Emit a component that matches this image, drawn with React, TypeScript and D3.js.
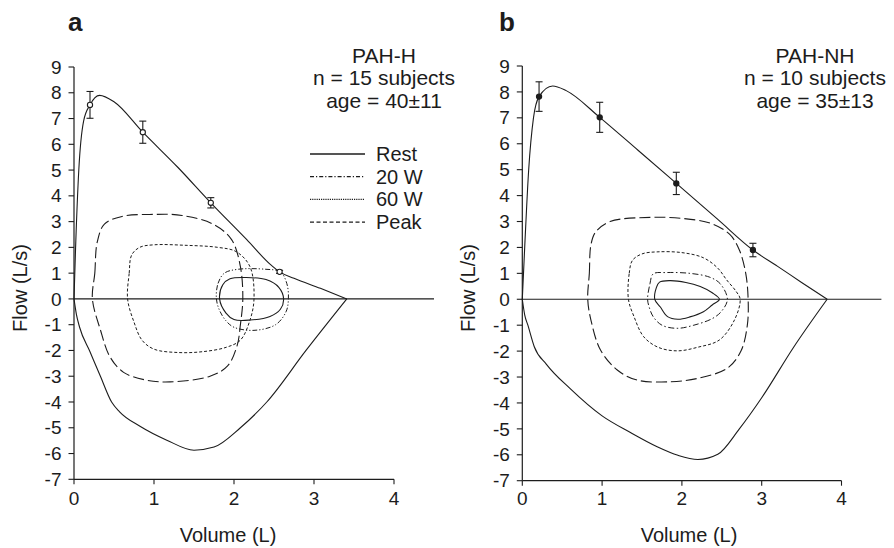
import React from "react";
import * as d3 from "d3";

type P = [number, number];

// ---------- DATA ----------
const volumeTicks = [0, 1, 2, 3, 4];
const flowTicks = [9, 8, 7, 6, 5, 4, 3, 2, 1, 0, -1, -2, -3, -4, -5, -6, -7];

const panelLetters = ["a", "b"];
const groupNames = ["PAH-H", "PAH-NH"];
const groupN = ["n = 15 subjects", "n = 10 subjects"];
const groupAge = ["age = 40±11", "age = 35±13"];

const legendLabels = ["Rest", "20 W", "60 W", "Peak"];

// PAH-H (panel a)
const pahH_restExp: P[] = [[0, 0], [0.02, 2], [0.06, 5], [0.12, 6.9], [0.2, 7.53], [0.32, 7.9], [0.5, 7.65], [0.86, 6.47], [1.3, 5.1], [1.71, 3.73], [2.16, 2.3], [2.45, 1.35], [2.57, 1.05], [2.75, 0.8], [3.08, 0.41], [3.41, 0]];
const pahH_restInsp: P[] = [[0, 0], [0.03, -0.6], [0.07, -1.1], [0.2, -2.05], [0.33, -3.0], [0.47, -4.0], [0.57, -4.38], [0.83, -4.95], [1.16, -5.48], [1.5, -5.87], [1.75, -5.75], [2.08, -5.0], [2.41, -4.0], [2.9, -2.0], [3.41, 0]];
const pahH_restTidal: P[] = [[1.82, 0], [1.86, 0.55], [1.95, 0.78], [2.15, 0.83], [2.4, 0.75], [2.56, 0.45], [2.62, 0], [2.58, -0.4], [2.45, -0.68], [2.2, -0.82], [2.0, -0.8], [1.9, -0.55]];
const pahH_20W: P[] = [[1.78, 0], [1.8, 0.6], [1.88, 1.0], [2.05, 1.15], [2.4, 1.15], [2.58, 1.05], [2.66, 0.6], [2.68, 0], [2.65, -0.5], [2.52, -1.0], [2.25, -1.22], [2.0, -1.1], [1.9, -0.85], [1.82, -0.45]];
const pahH_60W: P[] = [[0.67, 0], [0.69, 1], [0.72, 1.7], [0.82, 2.0], [1.0, 2.1], [1.4, 2.08], [1.8, 2.0], [2.03, 1.83], [2.2, 1.25], [2.25, 0], [2.2, -0.82], [2.08, -1.6], [1.9, -1.88], [1.6, -2.05], [1.3, -2.08], [1.0, -1.95], [0.85, -1.6], [0.75, -0.9]];
const pahH_peak: P[] = [[0.23, 0], [0.26, 1], [0.29, 2.2], [0.38, 2.9], [0.6, 3.2], [1.0, 3.28], [1.35, 3.24], [1.74, 2.9], [1.97, 2.3], [2.08, 1.25], [2.11, 0], [2.08, -1.0], [2.04, -1.8], [1.92, -2.6], [1.7, -3.0], [1.2, -3.22], [0.9, -3.15], [0.62, -2.85], [0.45, -2.25], [0.33, -1.2]];
const pahH_points = [0.2, 0.86, 1.71, 2.57];
const pahH_means = [7.53, 6.47, 3.73, 1.05];
const pahH_errors = [0.52, 0.43, 0.2, 0.06];

// PAH-NH (panel b)
const pahNH_restExp: P[] = [[0, 0], [0.03, 2], [0.08, 5], [0.14, 7.0], [0.21, 7.82], [0.38, 8.23], [0.55, 8.05], [0.97, 7.02], [1.45, 5.75], [1.93, 4.47], [2.45, 3.08], [2.89, 1.9], [3.2, 1.27], [3.5, 0.65], [3.82, 0]];
const pahNH_restInsp: P[] = [[0, 0], [0.03, -0.6], [0.07, -1.0], [0.15, -1.83], [0.3, -2.5], [0.6, -3.45], [1.0, -4.5], [1.36, -5.15], [1.69, -5.69], [1.95, -6.02], [2.2, -6.18], [2.45, -5.98], [2.72, -5.0], [3.0, -3.8], [3.4, -1.85], [3.82, 0]];
const pahNH_restTidal: P[] = [[1.66, 0], [1.68, 0.45], [1.72, 0.66], [1.85, 0.72], [2.05, 0.65], [2.23, 0.49], [2.38, 0.25], [2.47, 0], [2.38, -0.22], [2.27, -0.48], [2.1, -0.68], [1.95, -0.77], [1.82, -0.67], [1.73, -0.3]];
const pahNH_20W: P[] = [[1.57, 0], [1.6, 0.6], [1.64, 0.98], [1.8, 1.03], [2.1, 1.0], [2.35, 0.85], [2.48, 0.6], [2.57, 0], [2.5, -0.45], [2.39, -0.73], [2.15, -1.0], [1.94, -1.12], [1.75, -1.0], [1.64, -0.67], [1.59, -0.3]];
const pahNH_60W: P[] = [[1.33, 0], [1.34, 1], [1.38, 1.5], [1.5, 1.75], [1.7, 1.83], [2.0, 1.8], [2.27, 1.6], [2.45, 1.2], [2.56, 0.75], [2.68, 0.3], [2.73, 0], [2.66, -0.79], [2.47, -1.57], [2.2, -1.85], [1.94, -1.99], [1.7, -1.85], [1.52, -1.44], [1.4, -0.67]];
const pahNH_peak: P[] = [[0.82, 0], [0.84, 1], [0.86, 2.1], [0.92, 2.6], [1.1, 3.0], [1.61, 3.16], [2.0, 3.12], [2.36, 2.93], [2.6, 2.5], [2.72, 1.9], [2.8, 1.0], [2.83, 0], [2.82, -1], [2.74, -2], [2.57, -2.66], [2.2, -3.05], [1.86, -3.18], [1.44, -3.12], [1.19, -2.73], [0.98, -1.96], [0.86, -0.8]];
const pahNH_points = [0.21, 0.97, 1.93, 2.89];
const pahNH_means = [7.82, 7.02, 4.47, 1.9];
const pahNH_errors = [0.57, 0.58, 0.43, 0.26];

// ---------- STYLE ----------
const FONT = "'Liberation Sans', Arial, Helvetica, sans-serif";
const INK = "#1c1c1c";

interface PanelDef {
  letter: string;
  name: string;
  n: string;
  age: string;
  restExp: P[];
  restInsp: P[];
  tidal: P[];
  w20: P[];
  w60: P[];
  peak: P[];
  pv: number[];
  pm: number[];
  pe: number[];
  filled: boolean;
  x0: number; x1: number; yTop: number; yBot: number;
  letterX: number;
  textX: number;
  ylabX: number;
  xlabX: number;
  w20Dash: string;
  legend: boolean;
}

const panels: PanelDef[] = [
  {
    letter: panelLetters[0], name: groupNames[0], n: groupN[0], age: groupAge[0],
    restExp: pahH_restExp, restInsp: pahH_restInsp, tidal: pahH_restTidal,
    w20: pahH_20W, w60: pahH_60W, peak: pahH_peak,
    pv: pahH_points, pm: pahH_means, pe: pahH_errors, filled: false,
    x0: 74, x1: 394, yTop: 67, yBot: 479.3, letterX: 68, textX: 384, ylabX: 27, xlabX: 228,
    w20Dash: "5,2,1.2,2,1.2,2", legend: true,
  },
  {
    letter: panelLetters[1], name: groupNames[1], n: groupN[1], age: groupAge[1],
    restExp: pahNH_restExp, restInsp: pahNH_restInsp, tidal: pahNH_restTidal,
    w20: pahNH_20W, w60: pahNH_60W, peak: pahNH_peak,
    pv: pahNH_points, pm: pahNH_means, pe: pahNH_errors, filled: true,
    x0: 522.3, x1: 841.5, yTop: 66, yBot: 480.7, letterX: 499, textX: 815, ylabX: 475, xlabX: 689,
    w20Dash: "6,2.5,1.5,2.5", legend: false,
  },
];

function Panel({ p }: { p: PanelDef }) {
  const x = d3.scaleLinear().domain([0, 4]).range([p.x0, p.x1]);
  const y = d3.scaleLinear().domain([9, -7]).range([p.yTop, p.yBot]);
  const open = d3.line<P>().x((d) => x(d[0])).y((d) => y(d[1])).curve(d3.curveMonotoneX);
  const closed = d3.line<P>().x((d) => x(d[0])).y((d) => y(d[1])).curve(d3.curveCatmullRomClosed.alpha(0.5));
  const sw = 1.1;
  return (
    <g fontFamily={FONT} fill={INK}>
      <text x={p.letterX} y={31} fontSize={26} fontWeight="bold">{p.letter}</text>
      <text x={p.textX} y={63} fontSize={21} textAnchor="middle">{p.name}</text>
      <text x={p.textX} y={85} fontSize={21} textAnchor="middle">{p.n}</text>
      <text x={p.textX} y={107.5} fontSize={21} textAnchor="middle">{p.age}</text>

      {/* y axis */}
      <line x1={x(0)} x2={x(0)} y1={y(9)} y2={y(-7)} stroke={INK} strokeWidth={1.2} />
      {flowTicks.map((t) => (
        <g key={"yt" + t}>
          <line x1={x(0) - 5.5} x2={x(0)} y1={y(t)} y2={y(t)} stroke={INK} strokeWidth={1.1} />
          <text x={x(0) - 12.5} y={y(t)} dy="0.35em" fontSize={19} textAnchor="end">{t}</text>
        </g>
      ))}
      {/* x axis */}
      <line x1={x(0)} x2={x(4)} y1={y(-7)} y2={y(-7)} stroke={INK} strokeWidth={1.2} />
      {volumeTicks.map((t) => (
        <g key={"xt" + t}>
          <line x1={x(t)} x2={x(t)} y1={y(-7)} y2={y(-7) + 5} stroke={INK} strokeWidth={1.1} />
          <text x={x(t)} y={505} fontSize={19} textAnchor="middle">{t}</text>
        </g>
      ))}
      {/* zero line */}
      <line x1={x(0)} x2={x(4.5)} y1={y(0)} y2={y(0)} stroke={INK} strokeWidth={1.1} />

      <text x={p.xlabX} y={542} fontSize={20} textAnchor="middle">Volume (L)</text>
      <text transform={`translate(${p.ylabX},288) rotate(-90)`} fontSize={20} textAnchor="middle">Flow (L/s)</text>

      {/* curves */}
      <g fill="none" stroke={INK} strokeWidth={sw}>
        <path d={open(p.restExp) || ""} />
        <path d={open(p.restInsp) || ""} />
        <path d={closed(p.tidal) || ""} />
        <path d={closed(p.w20) || ""} strokeDasharray={p.w20Dash} strokeWidth={1} />
        <path d={closed(p.w60) || ""} strokeDasharray="3,2" strokeWidth={1} />
        <path d={closed(p.peak) || ""} strokeDasharray="11,4" />
      </g>

      {/* error bars */}
      {p.pv.map((v, i) => {
        const cx = x(v);
        const top = y(p.pm[i] + p.pe[i]);
        const bot = y(p.pm[i] - p.pe[i]);
        return (
          <g key={"eb" + i} stroke={INK} strokeWidth={1.1}>
            <line x1={cx} x2={cx} y1={top} y2={bot} />
            <line x1={cx - 3.5} x2={cx + 3.5} y1={top} y2={top} />
            <line x1={cx - 3.5} x2={cx + 3.5} y1={bot} y2={bot} />
            <circle cx={cx} cy={y(p.pm[i])} r={2.6} fill={p.filled ? INK : "#fff"} />
          </g>
        );
      })}

      {p.legend && (
        <g>
          {legendLabels.map((lab, i) => {
            const ly = 154 + i * 22.7;
            const dashes = ["", "4,2,1.2,2", "1.2,1", "4,2.5"];
            return (
              <g key={lab}>
                <line x1={310} x2={365} y1={ly} y2={ly} stroke={INK} strokeWidth={i === 0 ? 1.6 : 1.3} strokeDasharray={dashes[i] || undefined} />
                <text x={376} y={ly} dy="0.35em" fontSize={20}>{lab}</text>
              </g>
            );
          })}
        </g>
      )}
    </g>
  );
}

export default function App() {
  return (
    <svg width={894} height={548} style={{ position: "absolute", left: 0, top: 0, background: "#fff" }}>
      <rect width={894} height={548} fill="#fff" />
      {panels.map((p) => (
        <Panel key={p.letter} p={p} />
      ))}
    </svg>
  );
}
